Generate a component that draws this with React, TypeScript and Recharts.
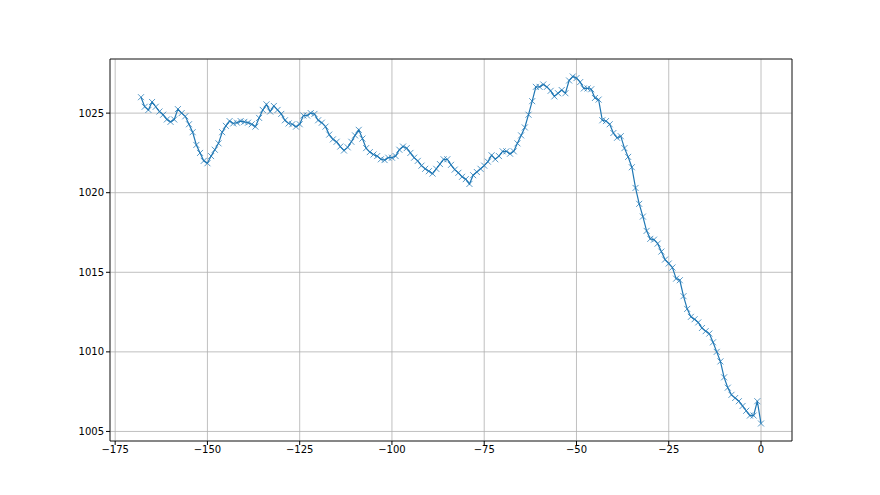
import { LineChart, Line, XAxis, YAxis, CartesianGrid, ReferenceArea } from 'recharts';

// hours before now (one reading per hour)
const hours: number[] = [];
for (let h = -168; h <= 0; h++) hours.push(h);

const pressure = [
  1026.0, 1025.4, 1025.2, 1025.7, 1025.4, 1025.1, 1024.9, 1024.6, 1024.45, 1024.6,
  1025.25, 1025.0, 1024.8, 1024.3, 1023.8, 1023.0, 1022.5, 1022.0, 1021.85, 1022.3,
  1022.7, 1023.1, 1023.8, 1024.2, 1024.5, 1024.35, 1024.4, 1024.5, 1024.45, 1024.4,
  1024.3, 1024.15, 1024.7, 1025.2, 1025.55, 1025.1, 1025.45, 1025.2, 1024.95, 1024.55,
  1024.35, 1024.3, 1024.15, 1024.3, 1024.85, 1024.85, 1025.0, 1024.95, 1024.55, 1024.4,
  1024.15, 1023.65, 1023.35, 1023.2, 1022.9, 1022.65, 1022.85, 1023.2, 1023.6, 1023.95,
  1023.4, 1022.8, 1022.55, 1022.4, 1022.3, 1022.1, 1022.05, 1022.2, 1022.2, 1022.3,
  1022.7, 1022.9, 1022.8, 1022.5, 1022.2, 1022.0, 1021.7, 1021.5, 1021.35, 1021.2,
  1021.5, 1021.8, 1022.1, 1022.1, 1021.75, 1021.45, 1021.25, 1021.0, 1020.85, 1020.55,
  1021.1, 1021.3, 1021.5, 1021.7, 1021.95, 1022.35, 1022.1, 1022.3, 1022.6, 1022.6,
  1022.45, 1022.6, 1023.1, 1023.6, 1024.1, 1024.9, 1025.75, 1026.65, 1026.65, 1026.8,
  1026.65, 1026.4, 1026.05, 1026.25, 1026.45, 1026.25, 1027.05, 1027.3, 1027.2, 1026.95,
  1026.55, 1026.55, 1026.5, 1025.95, 1025.85, 1024.55, 1024.5, 1024.3, 1023.75, 1023.45,
  1023.55, 1022.8, 1022.25, 1021.6, 1020.3, 1019.3, 1018.5, 1017.6, 1017.1, 1017.05,
  1016.8, 1016.3, 1015.8, 1015.55, 1015.3, 1014.6, 1014.5, 1013.5, 1012.7, 1012.2,
  1012.05, 1011.85, 1011.5, 1011.3, 1011.15, 1010.6, 1010.0, 1009.4, 1008.4, 1007.75,
  1007.3, 1007.1, 1006.9, 1006.6, 1006.3, 1006.0, 1006.0, 1006.9, 1005.5,
];

const xTicks = [-175, -150, -125, -100, -75, -50, -25, 0];
const yTicks = [1005, 1010, 1015, 1020, 1025];
const X_DOMAIN = [-176.4, 8.4];
const Y_DOMAIN = [1004.4, 1028.4];

const BLUE = '#1f77b4';
const tickStyle = { fill: '#000', fontSize: 10, fontFamily: 'DejaVu Sans' };
const minus = (v: number) => String(v).replace('-', '\u2212');

// matplotlib style 'x' marker
const XMarker = (props: any) => {
  const { cx, cy, index } = props;
  if (cx == null || cy == null) return null;
  const s = 3;
  return (
    <g key={`m-${index}`} stroke={BLUE} strokeWidth={1} strokeOpacity={0.75}>
      <line x1={cx - s} y1={cy - s} x2={cx + s} y2={cy + s} />
      <line x1={cx - s} y1={cy + s} x2={cx + s} y2={cy - s} />
    </g>
  );
};

export default function App() {
  const data = hours.map((h, i) => ({ h, p: pressure[i] }));

  return (
    <div style={{ position: 'absolute', left: 0, top: 0, width: 880, height: 495, background: '#fff' }}>
      <LineChart width={880} height={495} data={data} margin={{ top: 59, right: 88, bottom: 0, left: 0 }}>
        <CartesianGrid stroke="#b0b0b0" strokeWidth={0.8} />
        <XAxis
          dataKey="h"
          type="number"
          domain={X_DOMAIN}
          ticks={xTicks}
          allowDataOverflow
          height={54}
          axisLine={false}
          stroke="#000"
          tickSize={4}
          tickMargin={1}
          tick={tickStyle}
          tickFormatter={minus}
        />
        <YAxis
          type="number"
          domain={Y_DOMAIN}
          ticks={yTicks}
          allowDataOverflow
          width={110}
          axisLine={false}
          stroke="#000"
          tickSize={4}
          tickMargin={2}
          tick={tickStyle}
        />
        <ReferenceArea
          x1={X_DOMAIN[0]}
          x2={X_DOMAIN[1]}
          y1={Y_DOMAIN[0]}
          y2={Y_DOMAIN[1]}
          fill="none"
          stroke="#000"
          strokeWidth={0.8}
          ifOverflow="visible"
        />
        <Line
          type="linear"
          dataKey="p"
          stroke={BLUE}
          strokeWidth={1.2}
          dot={<XMarker />}
          activeDot={false}
          isAnimationActive={false}
        />
      </LineChart>
    </div>
  );
}
